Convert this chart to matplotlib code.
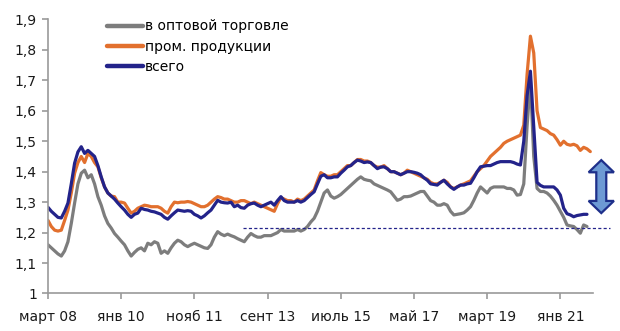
import numpy as np
import matplotlib
matplotlib.use("Agg")
import matplotlib.pyplot as plt
from matplotlib.patches import Polygon
from matplotlib.ticker import FuncFormatter

GREY = "#7d7d7d"
ORANGE = "#e2702e"
NAVY = "#23238a"

# monthly values, month 0 = March 2008
wholesale = [
    1.16, 1.15, 1.14, 1.13, 1.123, 1.14, 1.17, 1.23, 1.297, 1.36,
    1.395, 1.405, 1.38, 1.39, 1.36, 1.318, 1.29, 1.255, 1.23, 1.215,
    1.197, 1.185, 1.172, 1.16, 1.14, 1.123, 1.135, 1.145, 1.15, 1.14,
    1.165, 1.16, 1.17, 1.165, 1.132, 1.14, 1.132, 1.15, 1.165, 1.175,
    1.17, 1.16, 1.154, 1.16, 1.165, 1.16, 1.155, 1.15, 1.148, 1.16,
    1.185, 1.203, 1.195, 1.19, 1.195, 1.19, 1.186, 1.18, 1.175, 1.17,
    1.185, 1.197, 1.19, 1.185, 1.185, 1.19, 1.19, 1.19, 1.195, 1.20,
    1.21, 1.205, 1.205, 1.205, 1.205, 1.21, 1.205, 1.21, 1.22, 1.235,
    1.247, 1.27, 1.30, 1.33, 1.34, 1.32, 1.313, 1.318, 1.325, 1.335,
    1.345, 1.355, 1.365, 1.375, 1.383, 1.375, 1.372, 1.37, 1.36, 1.355,
    1.35, 1.345, 1.34, 1.334, 1.32, 1.306, 1.31, 1.318, 1.318, 1.32,
    1.325, 1.33, 1.335, 1.335, 1.32, 1.305, 1.30, 1.29, 1.29, 1.295,
    1.29, 1.27, 1.258, 1.26, 1.262, 1.265, 1.274, 1.285, 1.306, 1.33,
    1.35, 1.34, 1.33, 1.345, 1.35, 1.35, 1.35, 1.35, 1.345, 1.345,
    1.34, 1.323, 1.325, 1.36, 1.55, 1.70, 1.45, 1.345, 1.335, 1.335,
    1.33, 1.32, 1.306, 1.29, 1.27, 1.25, 1.225, 1.222, 1.22, 1.21,
    1.198, 1.225, 1.22,
]
industry = [
    1.24, 1.22, 1.208, 1.205, 1.208, 1.24, 1.274, 1.33, 1.395, 1.43,
    1.45, 1.43, 1.46, 1.45, 1.43, 1.416, 1.38, 1.35, 1.33, 1.32,
    1.318, 1.30, 1.30, 1.297, 1.28, 1.264, 1.27, 1.28, 1.285, 1.29,
    1.288, 1.285, 1.285, 1.285, 1.28, 1.27, 1.264, 1.285, 1.30, 1.298,
    1.30, 1.30, 1.302, 1.30, 1.295, 1.29, 1.285, 1.285, 1.29, 1.30,
    1.31, 1.318, 1.315, 1.31, 1.31, 1.305, 1.30, 1.30, 1.305, 1.305,
    1.30, 1.295, 1.30, 1.295, 1.29, 1.285, 1.28, 1.275, 1.27, 1.295,
    1.315, 1.31, 1.305, 1.305, 1.30, 1.31, 1.305, 1.31, 1.32, 1.33,
    1.34, 1.37, 1.397, 1.39, 1.385, 1.385, 1.39, 1.39, 1.40, 1.41,
    1.42, 1.42, 1.43, 1.44, 1.44, 1.435, 1.435, 1.43, 1.42, 1.415,
    1.415, 1.42, 1.41, 1.40, 1.40, 1.395, 1.39, 1.395, 1.405, 1.40,
    1.395, 1.39, 1.385, 1.38, 1.375, 1.365, 1.36, 1.36, 1.365, 1.372,
    1.365, 1.35, 1.345, 1.35, 1.356, 1.36, 1.365, 1.37, 1.385, 1.40,
    1.41, 1.42, 1.435, 1.45, 1.46, 1.47, 1.48, 1.493, 1.50, 1.505,
    1.51, 1.515, 1.52, 1.553, 1.72, 1.845, 1.79, 1.60, 1.545, 1.54,
    1.535, 1.525, 1.52, 1.505, 1.487, 1.50, 1.49, 1.487, 1.49, 1.485,
    1.47, 1.48, 1.475, 1.466,
]
total = [
    1.283, 1.27, 1.26, 1.25, 1.248, 1.27, 1.297, 1.36, 1.428, 1.465,
    1.482, 1.46, 1.47, 1.46, 1.45, 1.42, 1.383, 1.35, 1.33, 1.32,
    1.31, 1.297, 1.285, 1.274, 1.26, 1.25, 1.26, 1.264, 1.28, 1.276,
    1.274, 1.27, 1.268, 1.264, 1.26, 1.25, 1.244, 1.255, 1.265, 1.274,
    1.272, 1.27, 1.272, 1.27, 1.26, 1.255, 1.248, 1.255, 1.265, 1.274,
    1.29, 1.306, 1.30, 1.298, 1.297, 1.30, 1.285, 1.29, 1.282, 1.28,
    1.29, 1.295, 1.297, 1.29, 1.285, 1.29, 1.295, 1.30, 1.29, 1.305,
    1.318, 1.305, 1.30, 1.30, 1.30, 1.305, 1.30, 1.305, 1.315, 1.325,
    1.334, 1.36, 1.385, 1.39, 1.38, 1.38, 1.383, 1.383, 1.395, 1.405,
    1.416, 1.42, 1.43, 1.438, 1.435, 1.43, 1.432, 1.43, 1.42, 1.41,
    1.415, 1.416, 1.41, 1.40, 1.40, 1.395, 1.39, 1.395, 1.40, 1.40,
    1.398, 1.395, 1.39, 1.38, 1.372, 1.36, 1.358, 1.356, 1.365, 1.372,
    1.36, 1.35, 1.342, 1.35, 1.356, 1.356, 1.36, 1.362, 1.38, 1.40,
    1.416, 1.418, 1.42, 1.42, 1.425, 1.43, 1.433, 1.433, 1.433, 1.433,
    1.43, 1.425, 1.422, 1.50, 1.65, 1.73, 1.55, 1.365, 1.355, 1.35,
    1.35, 1.35, 1.35, 1.34, 1.323, 1.28, 1.262, 1.258, 1.252, 1.256,
    1.258, 1.26, 1.26,
]
labels = ["в оптовой торговле", "пром. продукции", "всего"]
tick_months = [0, 22, 44, 66, 88, 110, 132, 154]
tick_labels = ["март 08", "янв 10", "нояб 11", "сент 13", "июль 15", "май 17", "март 19", "янв 21"]
ref_level = 1.214
ref_start = 58.7
gap_low, gap_high = 1.264, 1.438

plt.rcParams["font.family"] = "DejaVu Sans"
fig = plt.figure(figsize=(6.2, 3.31), dpi=100)
ax = fig.add_axes([0.0774, 0.1133, 0.879, 0.828])

for vals, col, lab in zip([wholesale, industry, total], [GREY, ORANGE, NAVY], labels):
    ax.plot(np.arange(len(vals)), vals, color=col, lw=2.3, label=lab,
            solid_joinstyle="round", solid_capstyle="round")

# dashed reference level, runs past the right edge
ax.plot([ref_start, 169], [ref_level, ref_level], color=NAVY, lw=0.9,
        ls=(0, (2.5, 1.8)), clip_on=False)

# double-headed block arrow on the right
cx, sw, hw, hl = 166.3, 1.5, 3.8, 0.04
pts = [(cx, gap_high), (cx + hw, gap_high - hl), (cx + sw, gap_high - hl),
       (cx + sw, gap_low + hl), (cx + hw, gap_low + hl), (cx, gap_low),
       (cx - hw, gap_low + hl), (cx - sw, gap_low + hl), (cx - sw, gap_high - hl),
       (cx - hw, gap_high - hl)]
ax.add_patch(Polygon(pts, closed=True, facecolor="#6d9ad4", edgecolor="#1e2f8a",
                     lw=1.6, clip_on=False, zorder=6))

ax.set_xlim(0, 163.8)
ax.set_ylim(1.0, 1.9)
ax.set_yticks(np.arange(1.0, 1.91, 0.1))
ax.yaxis.set_major_formatter(FuncFormatter(
    lambda v, p: "1" if abs(v - 1) < 1e-9 else f"{v:.1f}".replace(".", ",")))
ax.set_xticks(tick_months)
ax.set_xticklabels(tick_labels)

for s in ["top", "right"]:
    ax.spines[s].set_visible(False)
for s in ["left", "bottom"]:
    ax.spines[s].set_color("#9a9a9a")
    ax.spines[s].set_linewidth(1.2)
ax.tick_params(axis="both", colors="#9a9a9a", labelcolor="#1a1a1a",
               labelsize=10, length=4, width=1.2, direction="out")
ax.tick_params(axis="x", pad=8)
ax.tick_params(axis="y", pad=4)

leg = ax.legend(loc="upper left", bbox_to_anchor=(0.108, 1.0), frameon=False,
                fontsize=10, handlelength=2.6, handletextpad=0.15,
                labelspacing=0.45, borderpad=0, borderaxespad=0)
for h in leg.get_lines():
    h.set_linewidth(3.2)

fig.savefig("out.png", dpi=100)
